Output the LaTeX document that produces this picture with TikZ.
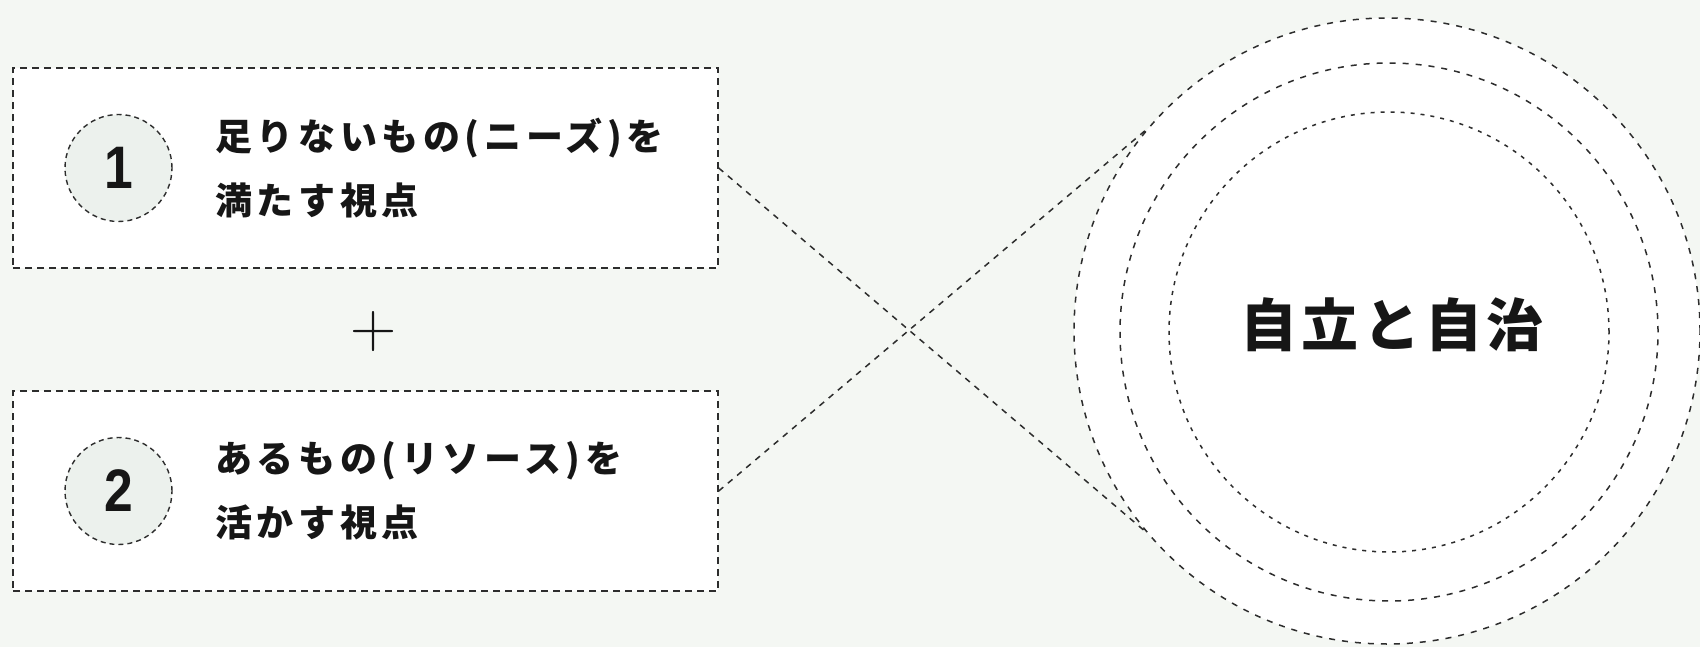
\documentclass[tikz,border=0pt]{standalone}
\usepackage{fontspec}
\newfontfamily\jpfont{Noto Sans CJK JP}[LetterSpace=12.5]
\newfontfamily\jptitle{Noto Sans CJK JP}[LetterSpace=8]
\newfontfamily\numfont{Liberation Sans}[FakeStretch=0.86]
\definecolor{bgpaper}{RGB}{244,247,243}
\definecolor{discfill}{RGB}{236,241,237}
\definecolor{dashgray}{RGB}{45,45,45}
\definecolor{inkblack}{RGB}{22,22,22}
\tikzset{
  dashbox/.style={draw=dashgray, line width=1.4pt, dash pattern=on 7pt off 5pt,
    fill=white, minimum width=705pt, minimum height=200pt, inner sep=0pt},
  numdisc/.style={circle, draw=dashgray, line width=1.4pt, dash pattern=on 5pt off 4pt,
    fill=discfill, minimum size=107pt, inner sep=0pt, text=inkblack,
    font=\numfont\bfseries\fontsize{60}{60}\selectfont},
  boxtext/.style={inner sep=0pt, align=left, text=inkblack,
    font=\jpfont\bfseries\fontsize{37}{64}\selectfont},
  ring/.style={circle, draw=dashgray, line width=1.5pt, fill=white, inner sep=0pt},
  link/.style={draw=dashgray, line width=1.5pt, dash pattern=on 6pt off 6pt}
}
\begin{document}
\begin{tikzpicture}[x=1pt,y=-1pt]
	% Paper and frame
	\fill[bgpaper] (0,0) rectangle (1700,647);
	\useasboundingbox (0,0) rectangle (1700,647);
	
	% Draw the rings
	\node[ring, minimum size=626pt, dash pattern=on 6pt off 7pt] (outer) at (1387,331) {};
	\node[ring, minimum size=538pt, dash pattern=on 6pt off 7pt] (middle) at (1389,332) {};
	\node[ring, minimum size=440pt, dash pattern=on 4pt off 6pt] (inner) at (1389,332) {};
	\node[inner sep=0pt, text=inkblack, font=\jptitle\bfseries\fontsize{57}{57}\selectfont]
		(title) at (1392,325) {自立と自治};
	
	% Draw the two boxes with numbers and labels
	\foreach \n/\yc/\first/\second in {1/168/{足りないもの(ニーズ)を}/{満たす視点},
		2/491/{あるもの(リソース)を}/{活かす視点}}
	{
		\node[dashbox] (box\n) at (365.5,\yc) {};
		\node[numdisc] (num\n) at (118.5,\yc) {\n};
		\node[boxtext, anchor=west] (text\n) at (215,\yc) {\first\\\second};
	}
	
	% Plus between the boxes
	\node[inner sep=0pt, text=inkblack, font=\fontsize{64}{64}\selectfont] (plus) at (373.5,332) {+};
	
	% Crossing links
	\draw[link] (box1.east) -- (outer.220);
	\draw[link] (box2.east) -- (outer.140);
\end{tikzpicture}
\end{document}
